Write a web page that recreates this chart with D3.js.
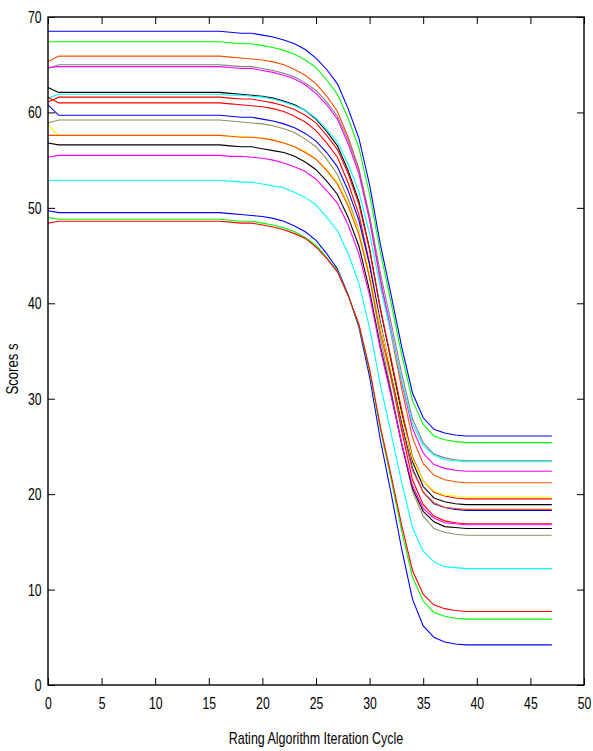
<!DOCTYPE html>
<html>
<head>
<meta charset="utf-8">
<script src="https://cdn.jsdelivr.net/npm/d3@7"></script>
<style>
  body { margin: 0; background: #fff; }
  text { font-family: "Liberation Sans Narrow", "Liberation Sans", Arial, sans-serif; }
</style>
</head>
<body>
<div id="chart"></div>
<script>
// iteration cycle (x) for every point
const cycles = [0, 1, 2, 3, 4, 5, 6, 7, 8, 9, 10, 11, 12, 13, 14, 15, 16, 17, 18, 19, 20, 21, 22, 23,
  24, 25, 26, 27, 28, 29, 30, 31, 32, 33, 34, 35, 36, 37, 38, 39, 40, 41, 42, 43, 44, 45, 46, 47];

// scores per object
const score01 = [68.5, 68.5, 68.5, 68.5, 68.5, 68.5, 68.5, 68.5, 68.5, 68.5, 68.5, 68.5, 68.5, 68.5, 68.5,
  68.5, 68.5, 68.4, 68.3, 68.3, 68.1, 67.9, 67.6, 67.2, 66.6, 65.7, 64.5, 63.0, 60.4, 57.3, 52.4, 46.2, 40.9, 35.4, 30.6, 28.0, 26.8, 26.4, 26.2,
  26.1, 26.1, 26.1, 26.1, 26.1, 26.1, 26.1, 26.1, 26.1];
const score02 = [67.4, 67.4, 67.4, 67.4, 67.4, 67.4, 67.4, 67.4, 67.4, 67.4, 67.4, 67.4, 67.4, 67.4, 67.4,
  67.4, 67.4, 67.3, 67.2, 67.2, 67.0, 66.8, 66.5, 66.1, 65.5, 64.7, 63.4, 61.9, 59.4, 56.3, 51.4, 45.4, 40.1, 34.6, 29.8, 27.3, 26.1, 25.7, 25.5,
  25.4, 25.4, 25.4, 25.4, 25.4, 25.4, 25.4, 25.4, 25.4];
const score03 = [65.3, 65.9, 65.9, 65.9, 65.9, 65.9, 65.9, 65.9, 65.9, 65.9, 65.9, 65.9, 65.9, 65.9, 65.9,
  65.9, 65.9, 65.8, 65.7, 65.6, 65.5, 65.3, 65.0, 64.5, 63.9, 63.0, 61.7, 60.1, 57.4, 54.1, 48.9, 42.4, 36.8, 31.0, 25.9, 23.2, 22.0, 21.5, 21.3,
  21.2, 21.2, 21.2, 21.2, 21.2, 21.2, 21.2, 21.2, 21.2];
const score04 = [64.6, 65.0, 65.0, 65.0, 65.0, 65.0, 65.0, 65.0, 65.0, 65.0, 65.0, 65.0, 65.0, 65.0, 65.0,
  65.0, 65.0, 64.9, 64.8, 64.8, 64.6, 64.4, 64.1, 63.7, 63.1, 62.3, 61.1, 59.6, 57.1, 54.0, 49.2, 43.2, 38.0, 32.6, 27.9, 25.4, 24.2, 23.8, 23.6,
  23.5, 23.5, 23.5, 23.5, 23.5, 23.5, 23.5, 23.5, 23.5];
const score05 = [64.7, 64.8, 64.8, 64.8, 64.8, 64.8, 64.8, 64.8, 64.8, 64.8, 64.8, 64.8, 64.8, 64.8, 64.8,
  64.8, 64.8, 64.7, 64.6, 64.6, 64.4, 64.2, 63.9, 63.5, 62.9, 62.0, 60.8, 59.3, 56.7, 53.6, 48.7, 42.5, 37.2, 31.7, 26.9, 24.3, 23.1, 22.7, 22.5,
  22.4, 22.4, 22.4, 22.4, 22.4, 22.4, 22.4, 22.4, 22.4];
const score06 = [62.6, 62.1, 62.1, 62.1, 62.1, 62.1, 62.1, 62.1, 62.1, 62.1, 62.1, 62.1, 62.1, 62.1, 62.1,
  62.1, 62.1, 62.0, 61.9, 61.8, 61.7, 61.5, 61.2, 60.8, 60.2, 59.3, 58.0, 56.5, 53.9, 50.7, 45.7, 39.4, 34.0, 28.4, 23.4, 20.8, 19.6, 19.2, 19.0,
  18.9, 18.9, 18.9, 18.9, 18.9, 18.9, 18.9, 18.9, 18.9];
const score07 = [61.5, 61.9, 61.9, 61.9, 61.9, 61.9, 61.9, 61.9, 61.9, 61.9, 61.9, 61.9, 61.9, 61.9, 61.9,
  61.9, 61.9, 61.8, 61.8, 61.7, 61.6, 61.4, 61.1, 60.7, 60.2, 59.4, 58.2, 56.9, 54.6, 51.7, 47.3, 41.7, 36.9, 31.9, 27.4, 25.1, 24.1, 23.6, 23.5,
  23.4, 23.4, 23.4, 23.4, 23.4, 23.4, 23.4, 23.4, 23.4];
const score08 = [61.1, 61.6, 61.6, 61.6, 61.6, 61.6, 61.6, 61.6, 61.6, 61.6, 61.6, 61.6, 61.6, 61.6, 61.6,
  61.6, 61.6, 61.5, 61.4, 61.4, 61.2, 61.0, 60.7, 60.3, 59.7, 58.9, 57.6, 56.1, 53.6, 50.4, 45.6, 39.5, 34.2, 28.8, 23.9, 21.4, 20.2, 19.8, 19.6,
  19.5, 19.5, 19.5, 19.5, 19.5, 19.5, 19.5, 19.5, 19.5];
const score09 = [61.6, 61.0, 61.0, 61.0, 61.0, 61.0, 61.0, 61.0, 61.0, 61.0, 61.0, 61.0, 61.0, 61.0, 61.0,
  61.0, 61.0, 60.9, 60.8, 60.7, 60.6, 60.4, 60.1, 59.6, 59.0, 58.1, 56.8, 55.3, 52.6, 49.3, 44.2, 37.9, 32.3, 26.6, 21.5, 18.9, 17.7, 17.2, 17.0,
  16.9, 16.9, 16.9, 16.9, 16.9, 16.9, 16.9, 16.9, 16.9];
const score10 = [60.8, 59.7, 59.7, 59.7, 59.7, 59.7, 59.7, 59.7, 59.7, 59.7, 59.7, 59.7, 59.7, 59.7, 59.7,
  59.7, 59.7, 59.6, 59.5, 59.5, 59.3, 59.1, 58.8, 58.4, 57.8, 57.0, 55.8, 54.3, 51.8, 48.7, 44.0, 38.0, 32.8, 27.4, 22.7, 20.2, 19.0, 18.6, 18.4,
  18.3, 18.3, 18.3, 18.3, 18.3, 18.3, 18.3, 18.3, 18.3];
const score11 = [58.9, 59.2, 59.2, 59.2, 59.2, 59.2, 59.2, 59.2, 59.2, 59.2, 59.2, 59.2, 59.2, 59.2, 59.2,
  59.2, 59.2, 59.1, 59.0, 58.9, 58.8, 58.6, 58.3, 57.9, 57.2, 56.4, 55.1, 53.5, 50.9, 47.7, 42.7, 36.4, 30.9, 25.3, 20.3, 17.7, 16.4, 16.0, 15.8,
  15.7, 15.7, 15.7, 15.7, 15.7, 15.7, 15.7, 15.7, 15.7];
const score12 = [58.7, 57.6, 57.6, 57.6, 57.6, 57.6, 57.6, 57.6, 57.6, 57.6, 57.6, 57.6, 57.6, 57.6, 57.6,
  57.6, 57.6, 57.5, 57.5, 57.4, 57.3, 57.1, 56.8, 56.4, 55.9, 55.1, 54.0, 52.7, 50.4, 47.6, 43.2, 37.7, 33.0, 28.0, 23.7, 21.4, 20.3, 19.9, 19.8,
  19.7, 19.7, 19.7, 19.7, 19.7, 19.7, 19.7, 19.7, 19.7];
const score13 = [57.6, 57.6, 57.6, 57.6, 57.6, 57.6, 57.6, 57.6, 57.6, 57.6, 57.6, 57.6, 57.6, 57.6, 57.6,
  57.6, 57.6, 57.5, 57.4, 57.4, 57.3, 57.1, 56.8, 56.4, 55.8, 55.1, 53.9, 52.5, 50.2, 47.2, 42.7, 37.0, 32.1, 27.0, 22.5, 20.2, 19.1, 18.6, 18.5,
  18.4, 18.4, 18.4, 18.4, 18.4, 18.4, 18.4, 18.4, 18.4];
const score14 = [56.8, 56.6, 56.6, 56.6, 56.6, 56.6, 56.6, 56.6, 56.6, 56.6, 56.6, 56.6, 56.6, 56.6, 56.6,
  56.6, 56.6, 56.5, 56.4, 56.4, 56.2, 56.0, 55.8, 55.4, 54.8, 54.0, 52.8, 51.4, 49.0, 46.0, 41.3, 35.5, 30.5, 25.2, 20.6, 18.2, 17.1, 16.6, 16.5,
  16.4, 16.4, 16.4, 16.4, 16.4, 16.4, 16.4, 16.4, 16.4];
const score15 = [55.3, 55.5, 55.5, 55.5, 55.5, 55.5, 55.5, 55.5, 55.5, 55.5, 55.5, 55.5, 55.5, 55.5, 55.5,
  55.5, 55.5, 55.4, 55.4, 55.3, 55.2, 55.0, 54.7, 54.3, 53.8, 53.0, 51.8, 50.5, 48.2, 45.2, 40.8, 35.2, 30.3, 25.3, 20.9, 18.5, 17.5, 17.0, 16.9,
  16.8, 16.8, 16.8, 16.8, 16.8, 16.8, 16.8, 16.8, 16.8];
const score16 = [52.9, 52.9, 52.9, 52.9, 52.9, 52.9, 52.9, 52.9, 52.9, 52.9, 52.9, 52.9, 52.9, 52.9, 52.9,
  52.9, 52.9, 52.8, 52.7, 52.7, 52.5, 52.3, 52.1, 51.6, 51.1, 50.3, 49.0, 47.6, 45.2, 42.1, 37.4, 31.5, 26.4, 21.2, 16.5, 14.0, 12.9, 12.4, 12.3,
  12.2, 12.2, 12.2, 12.2, 12.2, 12.2, 12.2, 12.2, 12.2];
const score17 = [49.7, 49.5, 49.5, 49.5, 49.5, 49.5, 49.5, 49.5, 49.5, 49.5, 49.5, 49.5, 49.5, 49.5, 49.5,
  49.5, 49.5, 49.4, 49.3, 49.2, 49.1, 48.9, 48.6, 48.1, 47.5, 46.6, 45.2, 43.6, 40.9, 37.5, 32.3, 25.7, 20.1, 14.2, 9.0, 6.2, 5.0, 4.5, 4.3,
  4.2, 4.2, 4.2, 4.2, 4.2, 4.2, 4.2, 4.2, 4.2];
const score18 = [49.0, 48.8, 48.8, 48.8, 48.8, 48.8, 48.8, 48.8, 48.8, 48.8, 48.8, 48.8, 48.8, 48.8, 48.8,
  48.8, 48.8, 48.7, 48.6, 48.6, 48.4, 48.2, 47.9, 47.5, 46.9, 46.1, 44.8, 43.4, 40.8, 37.7, 32.9, 26.8, 21.6, 16.1, 11.3, 8.8, 7.6, 7.2, 7.0,
  6.9, 6.9, 6.9, 6.9, 6.9, 6.9, 6.9, 6.9, 6.9];
const score19 = [48.4, 48.6, 48.6, 48.6, 48.6, 48.6, 48.6, 48.6, 48.6, 48.6, 48.6, 48.6, 48.6, 48.6, 48.6,
  48.6, 48.6, 48.5, 48.4, 48.4, 48.2, 48.0, 47.7, 47.3, 46.8, 45.9, 44.7, 43.3, 40.8, 37.8, 33.1, 27.1, 22.0, 16.7, 12.0, 9.5, 8.4, 8.0, 7.8,
  7.7, 7.7, 7.7, 7.7, 7.7, 7.7, 7.7, 7.7, 7.7];

// tick labels
const xTickValues = [0, 5, 10, 15, 20, 25, 30, 35, 40, 45, 50];
const yTickValues = [0, 10, 20, 30, 40, 50, 60, 70];

// gnuplot style line colours
const lineColors = ["#0000ff", "#00ff00", "#ff4d00", "#808080", "#ff00ff", "#000000", "#00ffff", "#ff0000",
  "#ff0000", "#0000ff", "#909060", "#ffff00", "#ff4d00", "#000000", "#ff00ff", "#00ffff", "#0000ff", "#00ff00", "#ff0000"];

const allScores = [score01, score02, score03, score04, score05, score06, score07, score08, score09, score10,
  score11, score12, score13, score14, score15, score16, score17, score18, score19];

const width = 593;
const height = 751;
const margin = { top: 17, right: 9, bottom: 66, left: 48 };

const svg = d3.select("#chart")
  .append("svg")
  .attr("width", width)
  .attr("height", height)
  .style("display", "block");

const x = d3.scaleLinear()
  .domain([0, 50])
  .range([margin.left, width - margin.right]);

const y = d3.scaleLinear()
  .domain([0, 70])
  .range([height - margin.bottom, margin.top]);

// lines
const line = d3.line()
  .x((d, i) => x(cycles[i]))
  .y(d => y(d));

svg.append("g")
  .selectAll("path")
  .data(allScores)
  .enter()
  .append("path")
  .attr("d", d => line(d))
  .attr("fill", "none")
  .attr("stroke", (d, i) => lineColors[i])
  .attr("stroke-width", 1.1);

// axes, ticks pointing inwards like gnuplot; labels squeezed like the narrow original font
const squeeze = 0.72;
const tickStyle = g => {
  g.select(".domain").remove();
  g.selectAll(".tick line").attr("stroke", "#000").attr("stroke-width", 1);
  g.selectAll(".tick text")
    .attr("fill", "#000")
    .style("font-size", "17px")
    .attr("transform", `scale(${squeeze},1)`);
};

svg.append("g")
  .attr("transform", `translate(0,${y(0)})`)
  .call(d3.axisBottom(x).tickValues(xTickValues).tickSize(-7).tickPadding(12))
  .call(tickStyle);

svg.append("g")
  .attr("transform", `translate(0,${y(70)})`)
  .call(d3.axisTop(x).tickValues(xTickValues).tickSize(-7).tickFormat(""))
  .call(g => { g.select(".domain").remove(); g.selectAll(".tick line").attr("stroke", "#000"); });

svg.append("g")
  .attr("transform", `translate(${x(0)},0)`)
  .call(d3.axisLeft(y).tickValues(yTickValues).tickSize(-7).tickPadding(9))
  .call(tickStyle);

svg.append("g")
  .attr("transform", `translate(${x(50)},0)`)
  .call(d3.axisRight(y).tickValues(yTickValues).tickSize(-7).tickFormat(""))
  .call(g => { g.select(".domain").remove(); g.selectAll(".tick line").attr("stroke", "#000"); });

// frame
svg.append("rect")
  .attr("x", x(0))
  .attr("y", y(70))
  .attr("width", x(50) - x(0))
  .attr("height", y(0) - y(70))
  .attr("fill", "none")
  .attr("stroke", "#000")
  .attr("stroke-width", 1.4);

// axis titles
svg.append("text")
  .attr("transform", `translate(${(x(0) + x(50)) / 2},744) scale(0.78,1)`)
  .attr("text-anchor", "middle")
  .style("font-size", "16px")
  .text("Rating Algorithm Iteration Cycle");

svg.append("text")
  .attr("transform", "translate(18,369) rotate(-90) scale(0.82,1)")
  .attr("text-anchor", "middle")
  .style("font-size", "16px")
  .text("Scores s");
</script>
</body>
</html>
